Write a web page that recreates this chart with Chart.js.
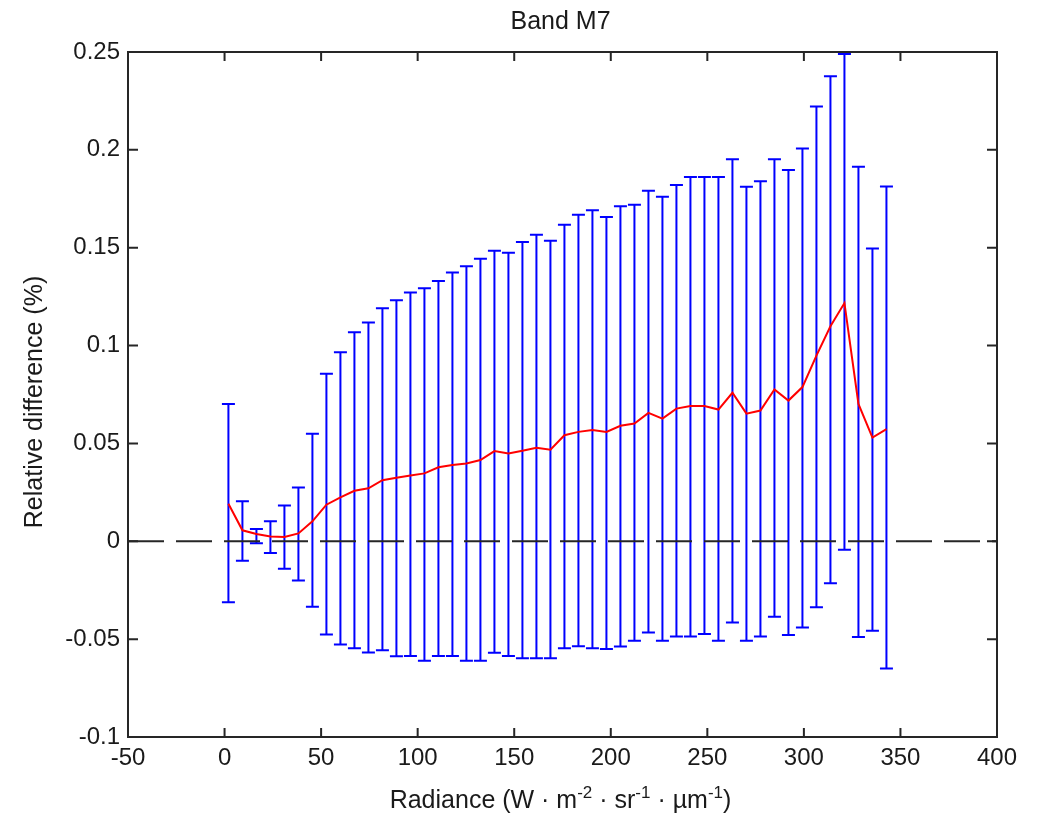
<!DOCTYPE html>
<html>
<head>
<meta charset="utf-8">
<script src="https://cdn.jsdelivr.net/npm/chart.js@4"></script>
<style>
    html, body { margin: 0; padding: 0; background: #FFFFFF; }
</style>
</head>
<body>
<canvas id="bandM7" width="1039" height="817"></canvas>
<script>

// =========================
// DATOS
// =========================

const radiance = [
    2, 9.25, 16.5, 23.75, 31, 38.25, 45.5, 52.75, 60, 67.25,
    74.5, 81.75, 89, 96.25, 103.5, 110.75, 118, 125.25, 132.5, 139.75,
    147, 154.25, 161.5, 168.75, 176, 183.25, 190.5, 197.75, 205, 212.25,
    219.5, 226.75, 234, 241.25, 248.5, 255.75, 263, 270.25, 277.5, 284.75,
    292, 299.25, 306.5, 313.75, 321, 328.25, 335.5, 342.75
];

const meanDiff = [
    0.0192, 0.0056, 0.0037, 0.0024, 0.0022, 0.0040, 0.0102, 0.0187, 0.0224, 0.0258,
    0.0271, 0.0312, 0.0325, 0.0336, 0.0347, 0.0378, 0.0390, 0.0398, 0.0415, 0.0461,
    0.0449, 0.0463, 0.0478, 0.0468, 0.0542, 0.0559, 0.0569, 0.0559, 0.0590, 0.0602,
    0.0656, 0.0627, 0.0678, 0.0691, 0.0691, 0.0673, 0.0759, 0.0652, 0.0668, 0.0776,
    0.0719, 0.0788, 0.0949, 0.1099, 0.1217, 0.0702, 0.0530, 0.0573
];

const upperDiff = [
    0.0702, 0.0205, 0.0063, 0.0102, 0.0183, 0.0275, 0.0549, 0.0856, 0.0966, 0.1068,
    0.1118, 0.1191, 0.1232, 0.1271, 0.1293, 0.1330, 0.1373, 0.1405, 0.1444, 0.1484,
    0.1474, 0.1529, 0.1566, 0.1535, 0.1617, 0.1669, 0.1691, 0.1657, 0.1712, 0.1720,
    0.1791, 0.1761, 0.1820, 0.1861, 0.1861, 0.1861, 0.1952, 0.1812, 0.1840, 0.1952,
    0.1897, 0.2007, 0.2221, 0.2376, 0.2490, 0.1914, 0.1496, 0.1813
];

const lowerDiff = [
    -0.0312, -0.0100, -0.0010, -0.0060, -0.0140, -0.0200, -0.0334, -0.0476, -0.0527, -0.0547,
    -0.0568, -0.0557, -0.0588, -0.0586, -0.0610, -0.0586, -0.0586, -0.0610, -0.0610, -0.0569,
    -0.0586, -0.0598, -0.0598, -0.0598, -0.0547, -0.0536, -0.0547, -0.0551, -0.0537, -0.0508,
    -0.0466, -0.0508, -0.0486, -0.0486, -0.0474, -0.0508, -0.0415, -0.0508, -0.0486, -0.0385,
    -0.0479, -0.0440, -0.0337, -0.0215, -0.0043, -0.0489, -0.0457, -0.0650
];

const zeroLineX = [-50, 400];

const chartTitle = "Band M7";
const yTitle = "Relative difference (%)";
const xTitleParts = [
    ["Radiance (W \u00b7 m", false],
    ["-2", true],
    [" \u00b7 sr", false],
    ["-1", true],
    [" \u00b7 \u00b5m", false],
    ["-1", true],
    [")", false]
];

const FONT = "'Liberation Sans', Arial, Helvetica, sans-serif";
const TEXT = "#1A1A1A";


// =========================
// PLUGINS
// =========================

// barras de error (azul) debajo de las líneas
const errorBars = {
    id: "errorBars",
    beforeDatasetsDraw(chart) {
        const { ctx, scales: { x, y } } = chart;
        ctx.save();
        ctx.strokeStyle = "#0000FF";
        ctx.lineWidth = 2;
        radiance.forEach((r, i) => {
            const px = x.getPixelForValue(r);
            const top = y.getPixelForValue(upperDiff[i]);
            const bot = y.getPixelForValue(lowerDiff[i]);
            ctx.beginPath();
            ctx.moveTo(px, top);
            ctx.lineTo(px, bot);
            ctx.moveTo(px - 6.5, top);
            ctx.lineTo(px + 6.5, top);
            ctx.moveTo(px - 6.5, bot);
            ctx.lineTo(px + 6.5, bot);
            ctx.stroke();
        });
        ctx.restore();
    }
};

// caja de ejes estilo MATLAB, ticks hacia dentro y títulos
const axesBox = {
    id: "axesBox",
    afterDraw(chart) {
        const { ctx, chartArea: a, scales: { x, y } } = chart;
        ctx.save();
        ctx.strokeStyle = "#262626";
        ctx.lineWidth = 2;
        ctx.strokeRect(a.left, a.top, a.right - a.left, a.bottom - a.top);

        ctx.beginPath();
        x.ticks.forEach(t => {
            const px = x.getPixelForValue(t.value);
            ctx.moveTo(px, a.bottom);
            ctx.lineTo(px, a.bottom - 9);
            ctx.moveTo(px, a.top);
            ctx.lineTo(px, a.top + 9);
        });
        y.ticks.forEach(t => {
            const py = y.getPixelForValue(t.value);
            ctx.moveTo(a.left, py);
            ctx.lineTo(a.left + 10, py);
            ctx.moveTo(a.right, py);
            ctx.lineTo(a.right - 10, py);
        });
        ctx.stroke();

        ctx.fillStyle = TEXT;
        const midX = (a.left + a.right) / 2 - 2;

        // título
        ctx.font = "25px " + FONT;
        ctx.textAlign = "center";
        ctx.textBaseline = "alphabetic";
        ctx.fillText(chartTitle, midX, 29);

        // título eje y
        ctx.save();
        ctx.translate(42, 402);
        ctx.rotate(-Math.PI / 2);
        ctx.fillText(yTitle, 0, 0);
        ctx.restore();

        // título eje x con superíndices
        const big = "25px " + FONT;
        const small = "17px " + FONT;
        let total = 0;
        xTitleParts.forEach(([txt, sup]) => {
            ctx.font = sup ? small : big;
            total += ctx.measureText(txt).width;
        });
        let cx = midX - total / 2;
        const base = 808;
        ctx.textAlign = "left";
        xTitleParts.forEach(([txt, sup]) => {
            ctx.font = sup ? small : big;
            ctx.fillText(txt, cx, sup ? base - 10 : base);
            cx += ctx.measureText(txt).width;
        });
        ctx.restore();
    }
};


// =========================
// GRÁFICO BAND M7
// =========================

const canvas = document.getElementById("bandM7");

new Chart(canvas, {

    type: "line",

    data: {
        datasets: [
            {
                label: "Media",
                data: radiance.map((r, i) => ({ x: r, y: meanDiff[i] })),
                borderColor: "#FF0000",
                borderWidth: 2,
                pointRadius: 0,
                tension: 0,
                fill: false,
                order: 0
            },
            {
                label: "Cero",
                data: zeroLineX.map(v => ({ x: v, y: 0 })),
                borderColor: "#262626",
                borderWidth: 2,
                borderDash: [36, 12],
                pointRadius: 0,
                fill: false,
                order: 1
            }
        ]
    },

    options: {

        responsive: false,
        animation: false,
        devicePixelRatio: 1,

        layout: {
            padding: { top: 52, right: 42, bottom: 0, left: 0 }
        },

        plugins: {
            legend: { display: false },
            tooltip: { enabled: false },
            title: { display: false }
        },

        scales: {

            x: {
                type: "linear",
                min: -50,
                max: 400,
                afterFit: scale => { scale.height = 80; },
                ticks: {
                    stepSize: 50,
                    color: TEXT,
                    padding: 7,
                    maxRotation: 0,
                    font: { family: FONT, size: 24 }
                },
                grid: { display: false, drawTicks: false },
                border: { display: false }
            },

            y: {
                type: "linear",
                min: -0.1,
                max: 0.25,
                afterFit: scale => { scale.width = 128; },
                ticks: {
                    stepSize: 0.05,
                    color: TEXT,
                    padding: 8,
                    font: { family: FONT, size: 24 },
                    callback: value => String(+value.toFixed(2))
                },
                grid: { display: false, drawTicks: false },
                border: { display: false }
            }

        }

    },

    plugins: [errorBars, axesBox]

});

</script>
</body>
</html>
